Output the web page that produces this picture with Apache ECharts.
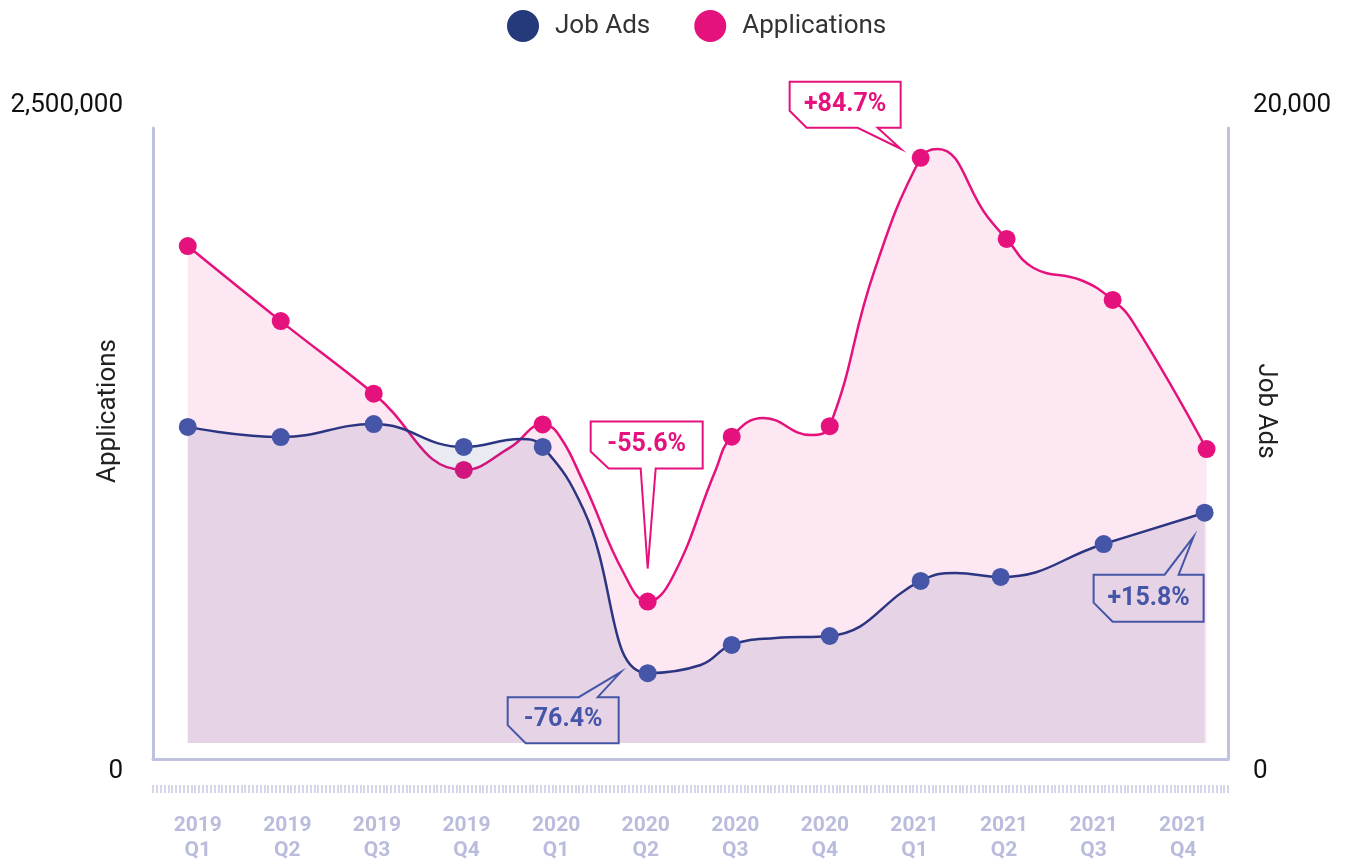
<!DOCTYPE html>
<html>
<head>
<meta charset="utf-8">
<script src="https://cdn.jsdelivr.net/npm/echarts@6/dist/echarts.min.js"></script>
<style>
  html, body { margin: 0; padding: 0; background: #ffffff; }
  #chart { width: 1349px; height: 863px; }
</style>
</head>
<body>
<div id="chart"></div>
<script>
// Quarter categories shown under the chart
const quarterLabels = ['2019\nQ1', '2019\nQ2', '2019\nQ3', '2019\nQ4',
                       '2020\nQ1', '2020\nQ2', '2020\nQ3', '2020\nQ4',
                       '2021\nQ1', '2021\nQ2', '2021\nQ3', '2021\nQ4'];

// Axis ranges (min, max) for both value axes
const applicationsTicks = [0, 2500000];
const jobAdsTicks = [0, 20000];

// Quarterly values; positions are in quarter units (0 = 2019 Q1)
const jobAdsPos = [-0.112, 0.926, 1.964, 2.969, 3.850, 5.022, 5.960, 7.054, 8.069, 8.962, 10.112, 11.239];
const jobAds    = [10280, 9950, 10370, 9630, 9630, 2272, 3190, 3480, 5270, 5400, 6470, 7490];

const applicationsPos = [-0.112, 0.926, 1.964, 2.969, 3.850, 5.022, 5.960, 7.054, 8.069, 9.029, 10.212, 11.261];
const applications    = [2020000, 1715000, 1420000, 1110000, 1295000, 575000, 1245000, 1288000, 2379000, 2049000, 1801000, 1195000];

// Intermediate readings between the quarterly markers: [position, value]
const jobAdsBetween = [
  [3.605, 9886], [4.308, 7577], [5.614, 2537],
  [6.451, 3415], [8.460, 5528]
];
const applicationsBetween = [
  [3.493, 1203000], [4.007, 1264000], [4.308, 1057000], [4.754, 691000],
  [5.301, 675000], [5.781, 1110000], [6.317, 1321000],
  [6.842, 1252000], [7.545, 1911000], [8.259, 2415000],
  [8.817, 2138000], [9.330, 1931000], [9.855, 1882000], [10.446, 1707000]
];

// Quarter-on-quarter changes that get a callout
const calloutQuarters = [
  { series: 'Applications', index: 8 },
  { series: 'Applications', index: 5 },
  { series: 'Job Ads', index: 5 },
  { series: 'Job Ads', index: 11 }
];

const PINK = '#e5127d';
const NAVY = '#2c3582';
const NAVY_LEGEND = '#243a7a';
const BLUE_MARK = '#4555a8';
const FRAME = '#bfc2e0';
const FONT = 'Roboto';

function buildPoints(pos, vals, between) {
  const pts = pos.map((p, i) => ({ value: [p, vals[i]] }));
  between.forEach(([p, v]) => pts.push({ value: [p, v], symbol: 'none' }));
  pts.sort((a, b) => a.value[0] - b.value[0]);
  return pts;
}

const fmt = v => v.toLocaleString('en-US');

function valueAxis(ticks, position, margin) {
  return {
    type: 'value', gridIndex: 0, position: position,
    min: ticks[0], max: ticks[1], interval: ticks[1] - ticks[0],
    axisLine: { show: false }, axisTick: { show: false }, splitLine: { show: false },
    axisLabel: {
      margin: margin,
      formatter: v => v === ticks[0] ? '{lo|' + fmt(v) + '}' : '{hi|' + fmt(v) + '}',
      rich: {
        hi: { fontSize: 26, color: '#111', fontFamily: FONT, padding: [0, 0, 46, 0] },
        lo: { fontSize: 26, color: '#111', fontFamily: FONT, padding: [56, 0, 0, 0] }
      }
    }
  };
}

const frameY = position => ({
  type: 'value', gridIndex: 1, position: position, min: 0, max: 1,
  axisLine: { show: true, onZero: false, lineStyle: { color: FRAME, width: 3 } },
  axisTick: { show: false }, axisLabel: { show: false }, splitLine: { show: false }
});

const chart = echarts.init(document.getElementById('chart'), null, { renderer: 'canvas' });

const option = {
  animation: false,
  backgroundColor: '#ffffff',
  textStyle: { fontFamily: FONT },
  legend: {
    top: 5, left: 502,
    itemWidth: 32, itemHeight: 32, itemGap: 44,
    icon: 'circle',
    textStyle: { fontSize: 26, color: '#333', fontFamily: FONT, padding: [0, 0, 0, 11] },
    data: [
      { name: 'Job Ads', icon: 'circle', itemStyle: { color: NAVY_LEGEND } },
      { name: 'Applications', icon: 'circle', itemStyle: { color: PINK } }
    ],
    selectedMode: false
  },
  grid: [
    { left: 153, right: 121, top: 128, bottom: 120 },
    { left: 153, right: 121, top: 128, bottom: 98 }
  ],
  xAxis: [
    { type: 'value', gridIndex: 0, position: 'bottom', min: -0.5, max: 11.5, show: false },
    {
      type: 'category', gridIndex: 1, position: 'bottom', data: quarterLabels, boundaryGap: true,
      axisLine: { show: true, onZero: false, lineStyle: { color: FRAME, width: 3 } },
      axisTick: { show: false }, splitLine: { show: false },
      axisLabel: { margin: 54, color: '#b9bcdc', fontSize: 21, fontWeight: 'bold', fontFamily: FONT, lineHeight: 25, interval: 0 }
    },
    {
      type: 'value', gridIndex: 1, position: 'bottom', offset: 26, min: 0, max: 280, interval: 1,
      axisLine: { show: false, onZero: false }, axisLabel: { show: false }, splitLine: { show: false },
      axisTick: { show: true, length: 8, lineStyle: { color: '#c6c9e4', width: 1.5 } }
    }
  ],
  yAxis: [
    valueAxis(applicationsTicks, 'left', 30),
    valueAxis(jobAdsTicks, 'right', 25),
    frameY('left'),
    frameY('right')
  ],
  series: [
    {
      name: 'Applications', type: 'line', xAxisIndex: 0, yAxisIndex: 0,
      data: buildPoints(applicationsPos, applications, applicationsBetween),
      smooth: 0.45, symbol: 'circle', symbolSize: 18, showAllSymbol: true,
      itemStyle: { color: PINK },
      lineStyle: { color: PINK, width: 2.5 },
      areaStyle: { color: PINK, opacity: 0.1 },
      emphasis: { disabled: true }, z: 2
    },
    {
      name: 'Job Ads', type: 'line', xAxisIndex: 0, yAxisIndex: 1,
      data: buildPoints(jobAdsPos, jobAds, jobAdsBetween),
      smooth: 0.45, symbol: 'circle', symbolSize: 18, showAllSymbol: true,
      itemStyle: { color: BLUE_MARK },
      lineStyle: { color: NAVY, width: 2.5 },
      areaStyle: { color: NAVY, opacity: 0.1 },
      emphasis: { disabled: true }, z: 3
    }
  ]
};

chart.setOption(option);

// Callout shapes: polygon corners and text centre, relative to the marker centre
const calloutShapes = [
  { pts: [[-131,-76],[-20,-76],[-20,-30],[-43,-30],[-20,-9],[-63,-30],[-114,-30],[-131,-47]], text: [-75.5,-53] },
  { pts: [[-57,-180],[55,-180],[55,-133],[8,-133],[0,-33],[-7,-133],[-39,-133],[-57,-150]], text: [-1,-156.5] },
  { pts: [[-140,24],[-69,24],[-27,-1],[-50,24],[-29,24],[-29,70],[-122,70],[-140,52]], text: [-84.5,47] },
  { pts: [[-111,62],[-40,62],[-11,24],[-26,62],[-1,62],[-1,109],[-92,109],[-111,90]], text: [-56,86] }
];

const graphics = [];
calloutQuarters.forEach((c, k) => {
  const isApps = c.series === 'Applications';
  const pos = isApps ? applicationsPos : jobAdsPos;
  const vals = isApps ? applications : jobAds;
  const color = isApps ? PINK : BLUE_MARK;
  const change = (vals[c.index] / vals[c.index - 1] - 1) * 100;
  const label = (change >= 0 ? '+' : '') + change.toFixed(1) + '%';
  const px = chart.convertToPixel({ xAxisIndex: 0, yAxisIndex: isApps ? 0 : 1 }, [pos[c.index], vals[c.index]]);
  const shape = calloutShapes[k];
  graphics.push({
    type: 'polygon', z: 100,
    shape: { points: shape.pts.map(p => [px[0] + p[0], px[1] + p[1]]) },
    style: { fill: 'rgba(0,0,0,0)', stroke: color, lineWidth: 2, lineJoin: 'miter' }
  });
  graphics.push({
    type: 'text', z: 101,
    x: px[0] + shape.text[0], y: px[1] + shape.text[1],
    style: {
      text: label, fill: color, font: 'bold 25px Roboto',
      align: 'center', verticalAlign: 'middle', textAlign: 'center', textVerticalAlign: 'middle'
    }
  });
});

// Axis titles
graphics.push({
  type: 'text', z: 50, x: 108, y: 411, rotation: Math.PI / 2,
  style: { text: 'Applications', fill: '#222', font: '26px Roboto', align: 'center', verticalAlign: 'middle', textAlign: 'center', textVerticalAlign: 'middle' }
});
graphics.push({
  type: 'text', z: 50, x: 1265, y: 411, rotation: -Math.PI / 2,
  style: { text: 'Job Ads', fill: '#222', font: '26px Roboto', align: 'center', verticalAlign: 'middle', textAlign: 'center', textVerticalAlign: 'middle' }
});

chart.setOption({ graphic: graphics });
</script>
</body>
</html>
